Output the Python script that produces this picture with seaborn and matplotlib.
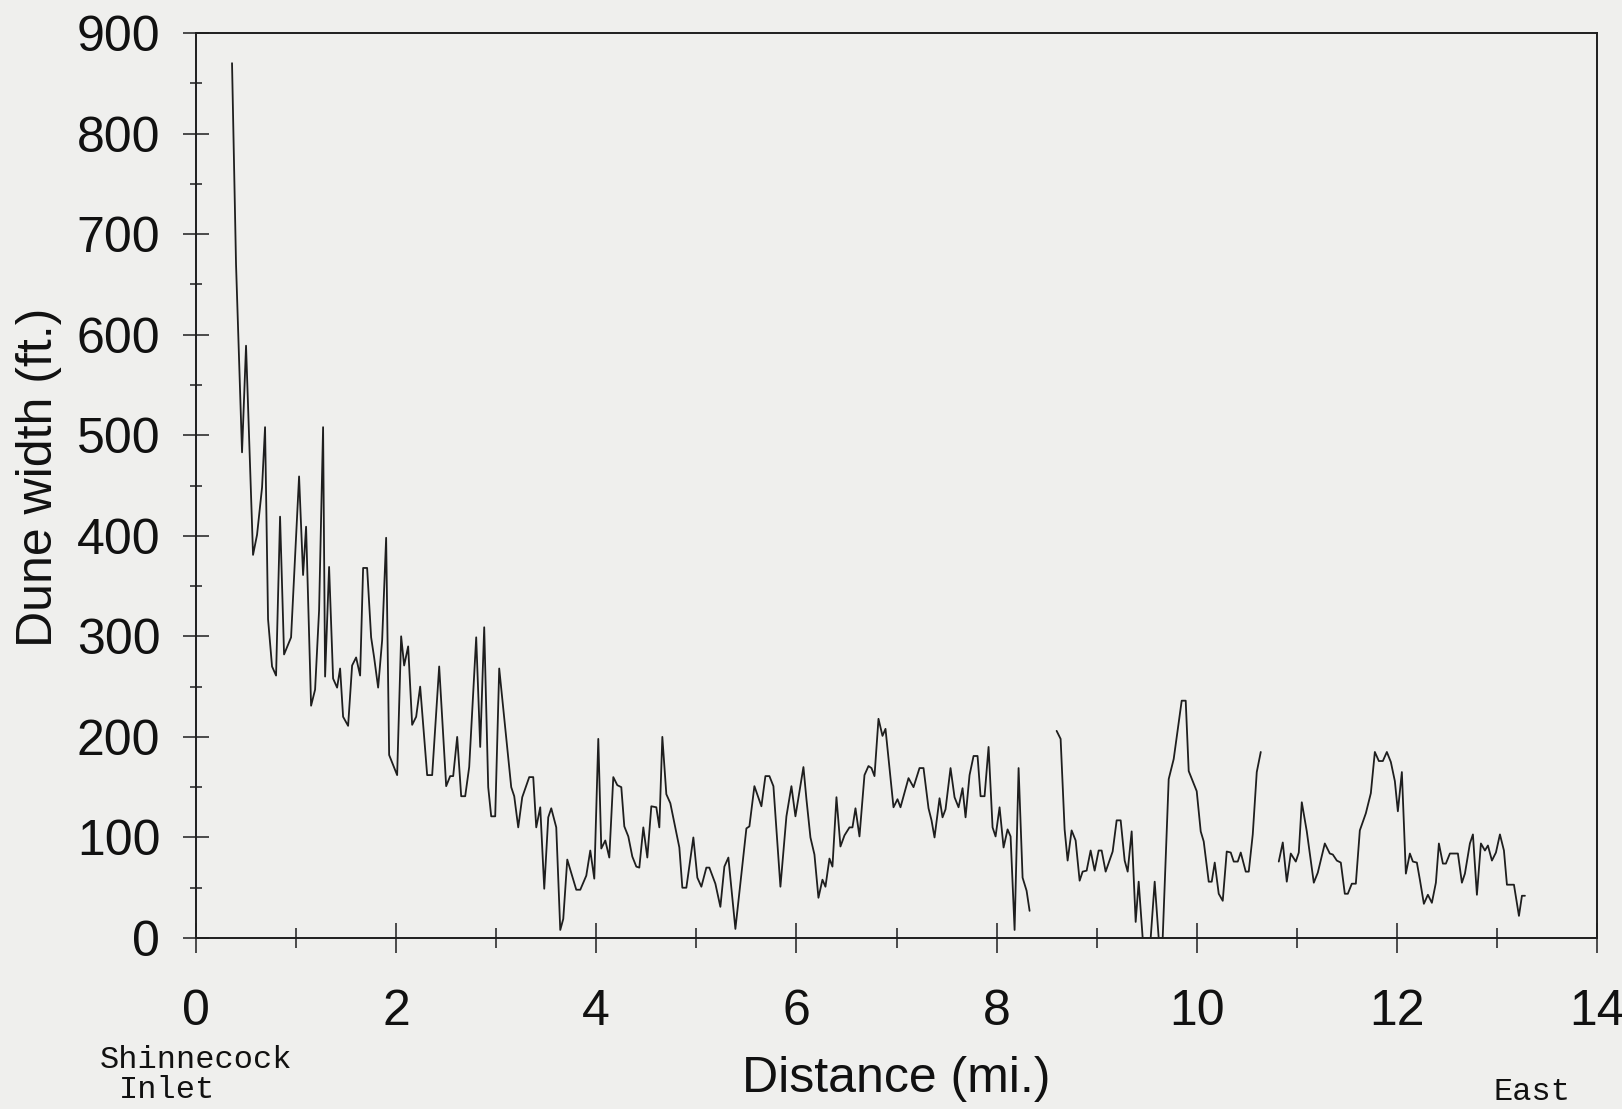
import numpy as np
import pandas as pd
import matplotlib
matplotlib.use("Agg")
import matplotlib.pyplot as plt
import seaborn as sns

# ---- data ----
seg1_mi = [0.36, 0.40, 0.46, 0.50, 0.57, 0.61, 0.66, 0.69, 0.72, 0.76, 0.80, 0.84, 0.88, 0.95,
           1.03, 1.07, 1.10, 1.15, 1.19, 1.23, 1.27, 1.29, 1.33, 1.37, 1.41, 1.44, 1.47, 1.52,
           1.56, 1.60, 1.64, 1.67, 1.71, 1.75, 1.78, 1.82, 1.86, 1.90, 1.93, 2.01, 2.05, 2.08,
           2.12, 2.16, 2.20, 2.24, 2.31, 2.36, 2.43, 2.50, 2.54, 2.57, 2.61, 2.65, 2.69, 2.73,
           2.80, 2.84, 2.88, 2.92, 2.95, 2.99, 3.03, 3.15, 3.18, 3.22, 3.26, 3.33, 3.37, 3.40,
           3.44, 3.48, 3.52, 3.55, 3.60, 3.64, 3.67, 3.71, 3.80, 3.84, 3.90, 3.94, 3.98, 4.02,
           4.05, 4.09, 4.13, 4.17, 4.21, 4.25, 4.28, 4.32, 4.36, 4.40, 4.43, 4.47, 4.51, 4.55,
           4.60, 4.63, 4.66, 4.70, 4.74, 4.83, 4.86, 4.90, 4.97, 5.01, 5.05, 5.10, 5.13, 5.19,
           5.24, 5.28, 5.32, 5.39, 5.50, 5.53, 5.58, 5.65, 5.69, 5.73, 5.77, 5.84, 5.90, 5.95,
           5.99, 6.07, 6.10, 6.14, 6.18, 6.22, 6.26, 6.29, 6.33, 6.36, 6.40, 6.44, 6.48, 6.53,
           6.56, 6.59, 6.63, 6.68, 6.72, 6.75, 6.78, 6.82, 6.86, 6.89, 6.97, 7.01, 7.04, 7.12,
           7.17, 7.23, 7.27, 7.32, 7.35, 7.38, 7.43, 7.46, 7.49, 7.54, 7.58, 7.62, 7.66, 7.69,
           7.73, 7.77, 7.81, 7.84, 7.88, 7.92, 7.96, 7.99, 8.03, 8.07, 8.11, 8.14, 8.18, 8.22,
           8.26, 8.30, 8.33]
seg1_ft = [870, 670, 483, 589, 381, 401, 448, 508, 317, 270, 261, 419, 282, 299,
           459, 361, 409, 231, 247, 326, 508, 260, 369, 258, 249, 268, 220, 211,
           271, 279, 261, 368, 368, 299, 279, 249, 296, 398, 182, 162, 300, 271,
           290, 212, 220, 250, 162, 162, 270, 151, 161, 161, 200, 141, 141, 170,
           299, 190, 309, 150, 121, 121, 268, 150, 141, 110, 140, 160, 160, 110,
           130, 49, 120, 129, 110, 8, 19, 78, 48, 48, 62, 87, 59, 198,
           89, 97, 80, 160, 152, 150, 111, 101, 81, 71, 70, 110, 80, 131,
           130, 110, 200, 143, 134, 90, 50, 50, 100, 60, 51, 70, 70, 54,
           31, 71, 80, 9, 109, 111, 151, 131, 161, 161, 151, 51, 121, 151,
           121, 170, 138, 100, 83, 40, 58, 51, 79, 71, 140, 91, 102, 110,
           110, 129, 101, 162, 171, 169, 161, 218, 201, 208, 130, 138, 130, 159,
           150, 169, 169, 129, 117, 100, 139, 120, 128, 169, 140, 130, 149, 120,
           162, 181, 181, 141, 141, 190, 110, 101, 130, 90, 108, 101, 8, 169,
           60, 47, 27]

seg2_mi = [8.60, 8.64, 8.68, 8.71, 8.75, 8.79, 8.83, 8.86, 8.90, 8.94, 8.98, 9.02, 9.05, 9.09,
           9.16, 9.20, 9.24, 9.28, 9.31, 9.35, 9.39, 9.42, 9.46, 9.54, 9.58, 9.62, 9.66, 9.72,
           9.77, 9.85, 9.89, 9.92, 10.00, 10.04, 10.07, 10.12, 10.15, 10.18, 10.22, 10.26,
           10.30, 10.34, 10.37, 10.41, 10.44, 10.49, 10.52, 10.56, 10.60, 10.64]
seg2_ft = [206, 198, 108, 77, 107, 97, 57, 66, 67, 87, 67, 87, 87, 66,
           86, 117, 117, 77, 66, 106, 16, 56, 0, 0, 56, 0, 0, 158,
           178, 236, 236, 166, 146, 106, 96, 56, 56, 75, 44, 37,
           86, 85, 76, 76, 85, 66, 66, 103, 165, 185]

seg3_mi = [10.82, 10.86, 10.90, 10.94, 10.99, 11.02, 11.05, 11.10, 11.17, 11.21, 11.28, 11.33,
           11.36, 11.40, 11.44, 11.48, 11.51, 11.55, 11.59, 11.63, 11.69, 11.74, 11.78, 11.82,
           11.86, 11.90, 11.94, 11.98, 12.01, 12.05, 12.09, 12.13, 12.16, 12.20, 12.23, 12.27,
           12.31, 12.35, 12.39, 12.42, 12.46, 12.49, 12.53, 12.61, 12.65, 12.68, 12.73, 12.76,
           12.80, 12.84, 12.88, 12.91, 12.95, 12.99, 13.03, 13.07, 13.10, 13.17, 13.22, 13.25,
           13.28]
seg3_ft = [76, 95, 56, 84, 76, 85, 135, 106, 55, 65, 94, 84,
           83, 77, 75, 44, 44, 54, 54, 107, 124, 144, 185, 176,
           176, 185, 175, 156, 126, 165, 64, 84, 76, 75, 58, 34,
           43, 35, 55, 94, 74, 74, 84, 84, 55, 64, 94, 103,
           43, 94, 87, 92, 77, 85, 103, 87, 53, 53, 22, 42,
           42]

x_ticks = [0, 2, 4, 6, 8, 10, 12, 14]
y_ticks = [0, 100, 200, 300, 400, 500, 600, 700, 800, 900]

# ---- assemble ----
df = pd.concat([
    pd.DataFrame({"mi": seg1_mi, "ft": seg1_ft, "seg": 1}),
    pd.DataFrame({"mi": seg2_mi, "ft": seg2_ft, "seg": 2}),
    pd.DataFrame({"mi": seg3_mi, "ft": seg3_ft, "seg": 3}),
], ignore_index=True)

sns.set_theme(style="ticks")
plt.rcParams["font.family"] = ["Liberation Sans", "DejaVu Sans"]
paper = "#efefed"
ink = "#1e1e1e"

W, H = 1622, 1109
fig = plt.figure(figsize=(W / 100, H / 100), dpi=100, facecolor=paper)
ax = fig.add_axes([196 / W, 1 - 938 / H, (1597 - 196) / W, 905 / H])
ax.set_facecolor(paper)

sns.lineplot(data=df, x="mi", y="ft", units="seg", estimator=None, sort=False,
             color=ink, linewidth=1.3, ax=ax, legend=False)

ax.set_xlim(0, 14)
ax.set_ylim(0, 900)
ax.set_xticks(x_ticks)
ax.set_xticks(np.arange(1, 14, 2), minor=True)
ax.set_yticks(y_ticks)
ax.set_yticks(np.arange(50, 900, 100), minor=True)
ax.set_xticklabels([str(v) for v in x_ticks])
ax.set_yticklabels([str(v) for v in y_ticks])

for s in ax.spines.values():
    s.set_visible(True)
    s.set_color(ink)
    s.set_linewidth(1.4)

ax.tick_params(axis="x", which="major", direction="inout", length=21.6, width=1.1,
               color=ink, labelsize=36, pad=26, labelcolor="#111111")
ax.tick_params(axis="x", which="minor", direction="inout", length=14.4, width=1.1, color=ink)
ax.tick_params(axis="y", which="major", direction="inout", length=19.4, width=1.1,
               color=ink, labelsize=36, pad=16, labelcolor="#111111")
ax.tick_params(axis="y", which="minor", direction="inout", length=8, width=1.1, color=ink)

ax.set_xlabel("Distance (mi.)", fontsize=36, color="#111111", va="baseline")
ax.xaxis.set_label_coords(0.5, -0.170)
ax.set_ylabel("Dune width (ft.)", fontsize=36, color="#111111", va="baseline")
ax.yaxis.set_label_coords(-0.1028, 0.509)

mono = ["Liberation Mono", "DejaVu Sans Mono"]
fig.text(100 / W, 1 - 1068 / H, "Shinnecock", family=mono, fontsize=23,
         ha="left", va="baseline", color="#111111")
fig.text(119 / W, 1 - 1098 / H, "Inlet", family=mono, fontsize=23,
         ha="left", va="baseline", color="#111111")
fig.text(1493 / W, 1 - 1100 / H, "East", family=mono, fontsize=23,
         ha="left", va="baseline", color="#111111")

fig.savefig("out.png", dpi=100, facecolor=paper)
